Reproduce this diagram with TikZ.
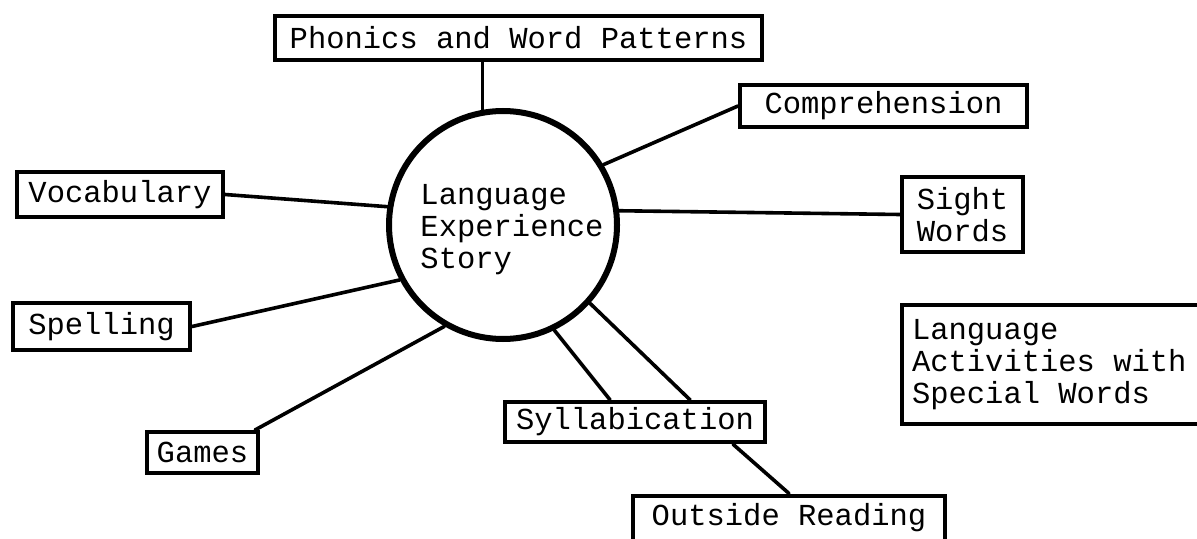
\documentclass[tikz,border=0pt]{standalone}
\usepackage{fontspec}
\setmonofont{Liberation Mono}
\usepackage{tikz}
\usetikzlibrary{positioning}

\begin{document}
\begin{tikzpicture}[x=0.5pt,y=-0.5pt,
    box/.style={draw, line width=2pt, inner xsep=3pt, inner ysep=3pt, align=flush left,
                font=\ttfamily\fontsize{15.25}{16}\selectfont},
    link/.style={line width=1.8pt, line cap=round}]
                \clip (0,0) rectangle (1197,539); % page size

                \node[draw, circle, line width=3pt, inner sep=0pt, minimum size=114pt] (S) at (503,225) {};
                \node[box, draw=none] (T) at (512,230) {Language\\Experience\\Story};

                \node[box, minimum width=243.5pt, minimum height=22pt] (P) at (518.5,38) {Phonics and Word Patterns};
                \node[box, minimum width=143.5pt, minimum height=21pt] (C) at (883.5,106) {Comprehension};
                \node[box, minimum width=60.5pt, minimum height=37.5pt] (W) at (962.5,214.5) {Sight\\Words};
                \node[box, minimum width=103pt, minimum height=22.5pt] (V) at (120,194.5) {Vocabulary};
                \node[box, minimum width=88.5pt, minimum height=23.5pt] (L) at (101.5,326.5) {Spelling};
                \node[box, minimum width=55.5pt, minimum height=20.5pt] (G) at (202.5,452.5) {Games};
                \node[box, minimum width=130pt, minimum height=20pt] (Y) at (635,422) {Syllabication};
                \node[box, minimum width=156pt, minimum height=22.5pt] (R) at (789,518) {Outside Reading};
                \node[box, anchor=north west, text width=142pt, inner xsep=5pt, minimum height=59.5pt] (A) at (900,303)
                    {Language\\Activities with\\Special Words};

                \draw[link] (S.100.5) -- (S.100.5 |- P.south);
                \draw[link] (S.31) -- (C.west);
                \draw[link] (S.7.4) -- (W.west);
                \draw[link] (S.171.6) -- (V.east);
                \draw[link] (S.208.3) -- (L.east);
                \draw[link] (S.240.7) -- ([xshift=-2.5pt]G.north east);
                \draw[link] (S.296.6) -- ([xshift=-12.5pt]Y.north); % two lines to this box
                \draw[link] (S.318.5) -- ([xshift=27.5pt]Y.north);
                \draw[link] ([xshift=49pt]Y.south) -- (R.north);
             \end{tikzpicture}
\end{document}
